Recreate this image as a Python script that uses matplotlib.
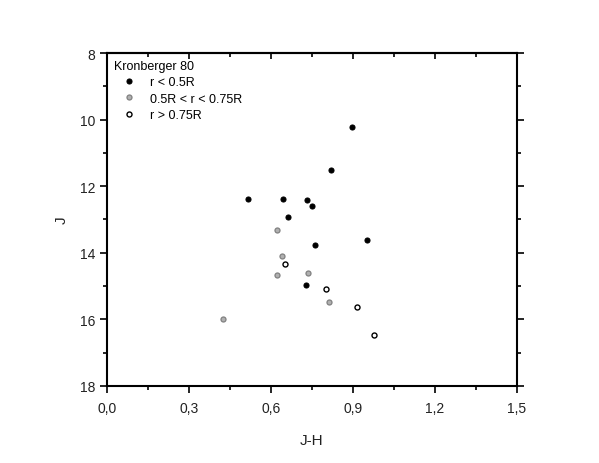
import numpy as np
import matplotlib
matplotlib.use("Agg")
import matplotlib.pyplot as plt
from matplotlib.ticker import MultipleLocator, FuncFormatter

plt.rcParams['font.family'] = ['Liberation Sans', 'DejaVu Sans']

# r < 0.5R (filled)
jh_in = [0.896, 0.820, 0.515, 0.644, 0.732, 0.750, 0.664, 0.950, 0.760, 0.730]
j_in = [10.22, 11.51, 12.38, 12.37, 12.41, 12.58, 12.94, 13.63, 13.78, 14.97]
# 0.5R < r < 0.75R (grey)
jh_mid = [0.621, 0.640, 0.623, 0.737, 0.811, 0.426]
j_mid = [13.33, 14.11, 14.67, 14.61, 15.49, 15.99]
# r > 0.75R (open)
jh_out = [0.651, 0.801, 0.913, 0.978]
j_out = [14.34, 15.10, 15.63, 16.48]

fig = plt.figure(figsize=(5.99, 4.64), dpi=100)
ax = fig.add_axes([0.1786, 0.166, 0.6844, 0.7176])

ax.plot(jh_in, j_in, 'o', ms=3.6, mfc='black', mec='black', mew=0.8, label='r < 0.5R')
ax.plot(jh_mid, j_mid, 'o', ms=3.6, mfc='#b0b0b0', mec='#808080', mew=0.9, label='0.5R < r < 0.75R')
ax.plot(jh_out, j_out, 'o', ms=3.6, mfc='white', mec='black', mew=1.0, label='r > 0.75R')

ax.set_xlim(0, 1.5)
ax.set_ylim(18, 8)
ax.xaxis.set_major_locator(MultipleLocator(0.3))
ax.xaxis.set_minor_locator(MultipleLocator(0.15))
ax.yaxis.set_major_locator(MultipleLocator(2))
ax.yaxis.set_minor_locator(MultipleLocator(1))
ax.xaxis.set_major_formatter(FuncFormatter(lambda v, p: f"{v:.1f}".replace('.', ',')))

for s in ax.spines.values():
    s.set_linewidth(1.5)
ax.tick_params(which='both', direction='out', labelsize=10, labelcolor='#222222',
               right=True, width=1.2)
ax.tick_params(which='major', length=5)
ax.tick_params(which='minor', length=3)
ax.tick_params(axis='x', pad=6)

top = ax.secondary_xaxis('top')
top.xaxis.set_major_locator(MultipleLocator(0.3))
top.xaxis.set_minor_locator(MultipleLocator(0.15))
top.tick_params(which='both', direction='in', labeltop=False, width=1.2)
top.tick_params(which='major', length=4)
top.tick_params(which='minor', length=3)
top.spines['top'].set_linewidth(1.5)

ax.set_xlabel('J-H', fontsize=11, color='#222222', labelpad=13)
ax.set_ylabel('J', fontsize=11, color='#222222', labelpad=8)

leg = ax.legend(loc='upper left', title='Kronberger 80', frameon=False, fontsize=9,
                title_fontsize=9, handletextpad=0.5, borderaxespad=0.15,
                labelspacing=0.35, handlelength=2.4)
leg._legend_box.align = 'left'

fig.savefig('out.png', dpi=100)
